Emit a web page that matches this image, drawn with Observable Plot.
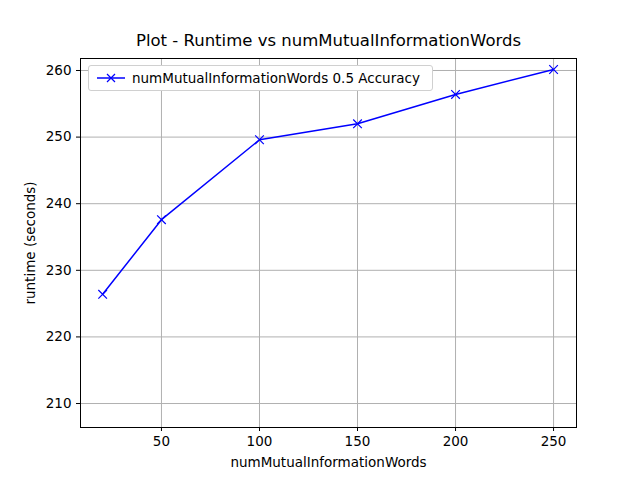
<!DOCTYPE html>
<html>
<head>
<meta charset="utf-8">
<script src="https://cdn.jsdelivr.net/npm/d3@7"></script>
<script src="https://cdn.jsdelivr.net/npm/@observablehq/plot@0.6"></script>
<style>
  body { margin: 0; background: #fff; }
  #chart { position: relative; width: 640px; height: 480px; font-family: "DejaVu Sans", sans-serif; }
  #legend { position: absolute; left: 88px; top: 65px; width: 343px; height: 24px; border: 1px solid #d0d0d0; border-radius: 3px; background: #fff; font-size: 13.5px; display: flex; align-items: center; }
</style>
</head>
<body>
<div id="chart"></div>
<script>
const words = [20, 50, 100, 150, 200, 250];
const runtime = [226.4, 237.6, 249.6, 252.0, 256.4, 260.15];
const xTicks = [50, 100, 150, 200, 250];
const yTicks = [210, 220, 230, 240, 250, 260];
const seriesName = "numMutualInformationWords 0.5 Accuracy";

const data = words.map((w, i) => ({ w, r: runtime[i] }));

const plot = Plot.plot({
  width: 640,
  height: 480,
  marginLeft: 80,
  marginRight: 64,
  marginTop: 58,
  marginBottom: 53,
  style: { fontFamily: "DejaVu Sans, sans-serif", fontSize: "13.5px", color: "#000" },
  x: { domain: [8.7, 261.7] },
  y: { domain: [206.4, 261.8] },
  marks: [
    Plot.gridX(xTicks, { stroke: "#b0b0b0", strokeOpacity: 1 }),
    Plot.gridY(yTicks, { stroke: "#b0b0b0", strokeOpacity: 1 }),
    Plot.frame({ stroke: "#000" }),
    Plot.axisX({ ticks: xTicks, label: "numMutualInformationWords", labelArrow: "none", labelAnchor: "center", labelOffset: 39, tickSize: 4, fontSize: 13.5 }),
    Plot.axisY({ ticks: yTicks, label: "runtime (seconds)", labelArrow: "none", labelAnchor: "center", labelOffset: 55, tickSize: 4, fontSize: 13.5 }),
    Plot.line(data, { x: "w", y: "r", stroke: "blue", strokeWidth: 1.5 }),
    Plot.dot(data, { x: "w", y: "r", symbol: "times", stroke: "blue", r: 4, strokeWidth: 1.2 }),
    Plot.text(["Plot - Runtime vs numMutualInformationWords"], { frameAnchor: "top", dy: -24, fontSize: 16.5 })
  ]
});
const chart = document.querySelector("#chart");
chart.append(plot);

const legend = document.createElement("div");
legend.id = "legend";
legend.innerHTML = `<svg width="40" height="24"><line x1="8" x2="36" y1="12" y2="12" stroke="blue" stroke-width="1.5"/><path d="M18,8L26,16M26,8L18,16" stroke="blue" stroke-width="1.2"/></svg><span style="margin-left:3px">${seriesName}</span>`;
chart.append(legend);
</script>
</body>
</html>
